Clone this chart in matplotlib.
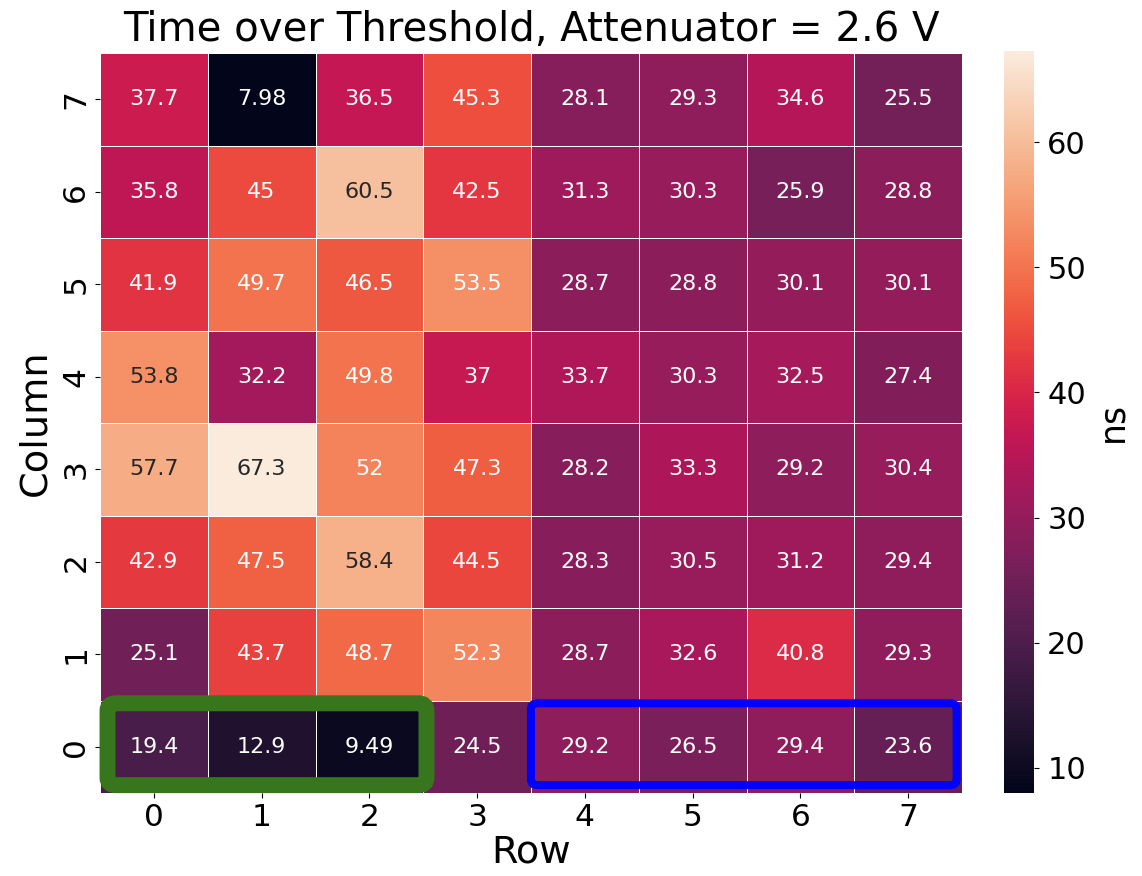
import numpy as np
import matplotlib
matplotlib.use("Agg")
import matplotlib.pyplot as plt
import seaborn as sns
from matplotlib.patches import FancyBboxPatch

# rows of the grid: "Column" index 0..7 (bottom to top), columns: "Row" index 0..7
row_labels = ["0", "1", "2", "3", "4", "5", "6", "7"]
col_labels = ["0", "1", "2", "3", "4", "5", "6", "7"]
col0 = [19.4, 12.9, 9.49, 24.5, 29.2, 26.5, 29.4, 23.6]
col1 = [25.1, 43.7, 48.7, 52.3, 28.7, 32.6, 40.8, 29.3]
col2 = [42.9, 47.5, 58.4, 44.5, 28.3, 30.5, 31.2, 29.4]
col3 = [57.7, 67.3, 52.0, 47.3, 28.2, 33.3, 29.2, 30.4]
col4 = [53.8, 32.2, 49.8, 37.0, 33.7, 30.3, 32.5, 27.4]
col5 = [41.9, 49.7, 46.5, 53.5, 28.7, 28.8, 30.1, 30.1]
col6 = [35.8, 45.0, 60.5, 42.5, 31.3, 30.3, 25.9, 28.8]
col7 = [37.7, 7.98, 36.5, 45.3, 28.1, 29.3, 34.6, 25.5]

data = np.array([col0, col1, col2, col3, col4, col5, col6, col7])

W, H = 1142, 876
fig = plt.figure(figsize=(W / 100, H / 100), dpi=100)
ax = fig.add_axes([100 / W, 1 - 793 / H, 862 / W, 740 / H])
cax = fig.add_axes([1004 / W, 1 - 793 / H, 30 / W, 742 / H])

sns.heatmap(data, ax=ax, cbar_ax=cax, cmap="rocket", annot=True, fmt=".3g",
            annot_kws={"fontsize": 16}, linewidths=0.5, linecolor="white",
            xticklabels=col_labels, yticklabels=row_labels)
ax.invert_yaxis()

# annotation text colour (reference uses dark text on the lightest cells)
for t in ax.texts:
    try:
        v = float(t.get_text())
    except ValueError:
        continue
    t.set_color("#262626" if v >= 53.6 else "white")

ax.tick_params(axis="both", labelsize=22.5)
for t in ax.get_yticklabels():
    t.set_rotation(90)
    t.set_va("center")
ax.set_xlabel("Row", fontsize=27.5, labelpad=2)
ax.set_ylabel("Column", fontsize=27.5, labelpad=6)
ax.set_title("Time over Threshold, Attenuator = 2.6 V", fontsize=29, pad=9)
cax.tick_params(labelsize=22, pad=6)
cax.set_ylabel("ns", fontsize=25, labelpad=7)

# highlight boxes (data coords; y axis inverted so row 0 at bottom)
green = FancyBboxPatch((0.07, 0.085), 2.96, 0.885,
                       boxstyle="round,pad=0,rounding_size=0.08",
                       fill=False, edgecolor="#38761d", linewidth=11.5,
                       clip_on=False, zorder=5)
blue = FancyBboxPatch((4.0, 0.085), 3.95, 0.885,
                      boxstyle="round,pad=0,rounding_size=0.06",
                      fill=False, edgecolor="#0000ff", linewidth=5.8,
                      clip_on=False, zorder=5)
ax.add_patch(green)
ax.add_patch(blue)

fig.savefig("out.png", dpi=100)
